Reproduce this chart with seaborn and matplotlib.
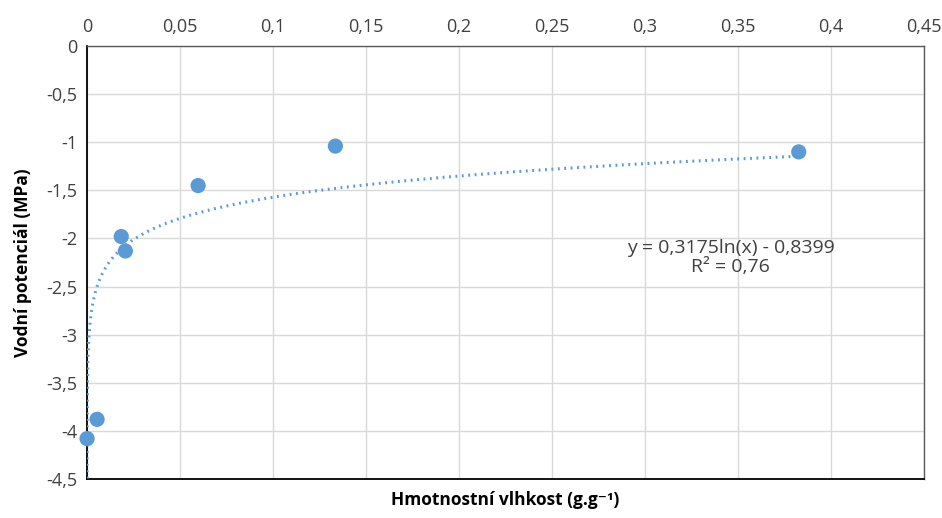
import numpy as np
import pandas as pd
import matplotlib
matplotlib.use("Agg")
import matplotlib.pyplot as plt
import seaborn as sns
from matplotlib.ticker import FuncFormatter, MultipleLocator

# Data
moisture = [0.00001, 0.0054, 0.0184, 0.0206, 0.0597, 0.1335, 0.3826]
potential = [-4.08, -3.88, -1.98, -2.13, -1.45, -1.04, -1.10]
# Trendline coefficients shown on chart
coef_a = 0.3175
coef_b = -0.8399
eq_text = "y = 0,3175ln(x) - 0,8399\nR² = 0,76"

df = pd.DataFrame({"x": moisture, "y": potential})

sns.set_theme(style="white")
plt.rcParams['font.family'] = ['Open Sans', 'DejaVu Sans']

fig = plt.figure(figsize=(9.42, 5.18), dpi=100)
ax = fig.add_axes([0.0924, 0.0753, 0.8886, 0.8358])

blue = "#5b9bd5"
# trendline
xs = np.geomspace(min(moisture), max(moisture), 800)
ys = coef_a * np.log(xs) + coef_b
trend = pd.DataFrame({"x": xs, "y": ys})
sns.lineplot(data=trend, x="x", y="y", ax=ax, color=blue, lw=2.2,
             linestyle=(0, (0.6, 1.5)), sort=False, zorder=3)
sns.scatterplot(data=df, x="x", y="y", ax=ax, color=blue, s=120,
                edgecolor="none", zorder=4, clip_on=False)

ax.set_xlim(0, 0.45)
ax.set_ylim(-4.5, 0)
ax.xaxis.set_major_locator(MultipleLocator(0.05))
ax.yaxis.set_major_locator(MultipleLocator(0.5))

def fmt(v, pos):
    s = f"{v:.2f}".rstrip("0").rstrip(".")
    if s in ("-0", "0."):
        s = "0"
    return s.replace(".", ",")

ax.xaxis.set_major_formatter(FuncFormatter(fmt))
ax.yaxis.set_major_formatter(FuncFormatter(fmt))
ax.xaxis.tick_top()
ax.tick_params(axis="both", length=0, labelsize=13, colors="#404040", pad=7)

ax.grid(True, color="#d9d9d9", lw=1)
ax.set_axisbelow(True)
for side in ["left", "bottom"]:
    ax.spines[side].set_color("#000000")
    ax.spines[side].set_linewidth(1.3)
for side in ["top", "right"]:
    ax.spines[side].set_color("#595959")
    ax.spines[side].set_linewidth(1.0)

ax.set_xlabel("Hmotnostní vlhkost (g.g⁻¹)", fontsize=12.5, fontweight="bold",
              color="#000000")
ax.xaxis.set_label_position("bottom")
ax.xaxis.labelpad = 9
ax.set_ylabel("Vodní potenciál (MPa)", fontsize=12.5, fontweight="bold",
              color="#000000", labelpad=10)

ax.text(0.346, -2.2, eq_text, ha="center", va="center", fontsize=14,
        color="#404040", linespacing=1.1)

fig.savefig("out.png", dpi=100)
